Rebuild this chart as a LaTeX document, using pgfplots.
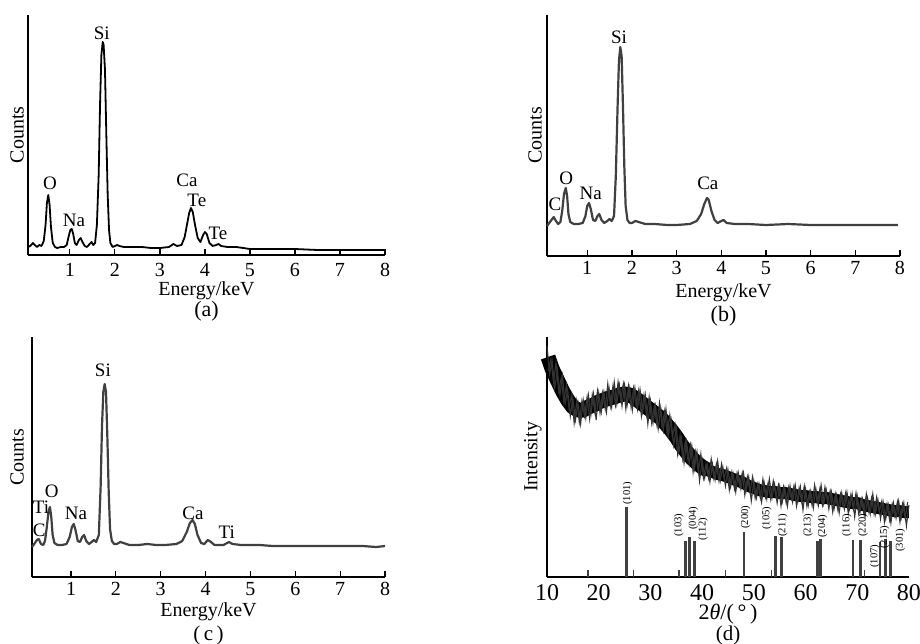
\documentclass[border=0pt]{standalone}
\usepackage{fontspec}
\setmainfont{Liberation Serif}
\usepackage{pgfplots}
\pgfplotsset{compat=1.18}
\pgfplotsset{
  eds/.style={
    scale only axis, anchor=south west,
    axis x line=bottom, axis y line=left,
    axis line style={-, line width=0.7pt},
    ytick=\empty,
    xmax=8, ymin=0,
    xtick={1,2,3,4,5,6,7,8},
    tick align=inside,
    major tick length=3pt,
    tick style={line width=0.6pt, black},
    /pgf/number format/assume math mode=true,
    ticklabel style={font=\fontsize{10}{11}\selectfont, inner sep=1pt},
    label style={font=\fontsize{10}{12}\selectfont, inner sep=1pt},
    xlabel={Energy/keV},
    ylabel={Counts},
    clip=false,
  },
}
\tikzset{pk/.style={font=\fontsize{9.5}{10}\selectfont, inner sep=0pt, anchor=center}}
\begin{document}
\begin{tikzpicture}
\useasboundingbox (0,0) rectangle (460pt,321.5pt);
% ---------------- (a)
\begin{axis}[eds, at={(14pt,194pt)}, width=178.5pt, height=120pt, xmin=0.07, ymax=240,
  xticklabel style={anchor=base, yshift=-11pt},
  xlabel style={at={(axis description cs:0.5,0)}, anchor=center, yshift=-18pt},
  ylabel style={at={(axis description cs:0,0.5)}, anchor=center, yshift=5.5pt}]
\addplot[black, line width=0.9pt, line join=round] coordinates {
(0.07,8) (0.12,9) (0.18,12) (0.22,10) (0.27,8) (0.32,10) (0.37,9) (0.42,14)
(0.46,30) (0.49,52) (0.52,60) (0.55,50) (0.58,28) (0.62,12) (0.67,8) (0.72,7)
(0.8,8) (0.87,8) (0.93,10) (0.97,18) (1.01,25) (1.04,26) (1.07,22) (1.11,12)
(1.15,10) (1.2,15) (1.24,17) (1.28,13) (1.33,9) (1.38,8) (1.44,11) (1.48,13)
(1.52,10) (1.56,12) (1.60,30) (1.64,80) (1.67,150) (1.70,200) (1.73,213) (1.75,210)
(1.78,185) (1.81,120) (1.84,60) (1.87,25) (1.9,12) (1.95,8) (2.0,9) (2.05,10)
(2.1,9) (2.2,8) (2.4,8) (2.6,8) (2.8,7) (3.0,7) (3.2,8) (3.3,11) (3.38,9)
(3.48,10) (3.55,18) (3.6,30) (3.65,42) (3.69,47) (3.73,43) (3.78,30) (3.84,17)
(3.9,13) (3.96,20) (4.0,23) (4.04,21) (4.1,12) (4.17,9) (4.25,10) (4.3,11)
(4.36,9) (4.5,8) (4.7,8) (5.0,6) (5.5,6) (6.0,6) (6.5,5) (7.0,5) (7.5,5) (8.0,5)
};
\node[pk] at (axis cs:1.71,222) {Si};
\node[pk] at (axis cs:0.56,72) {O};
\node[pk] at (axis cs:1.09,35) {Na};
\node[pk] at (axis cs:3.60,75) {Ca};
\node[pk] at (axis cs:3.82,55) {Te};
\node[pk] at (axis cs:4.29,22) {Te};
\node[font=\fontsize{11}{12}\selectfont, inner sep=1pt] at (rel axis cs:0.5,0) [yshift=-28pt] {(a)};
\end{axis}
% ---------------- (b)
\begin{axis}[eds, at={(273.5pt,193.5pt)}, width=176.5pt, height=120.5pt, xmin=0.1, ymax=241,
  xticklabel style={anchor=base, yshift=-9.5pt},
  xlabel style={at={(axis description cs:0.5,0)}, anchor=center, yshift=-18.5pt},
  ylabel style={at={(axis description cs:0,0.5)}, anchor=center, yshift=6pt}]
\addplot[black!75, line width=1.1pt, line join=round] coordinates {
(0.1,30) (0.15,33) (0.2,36) (0.25,39) (0.3,35) (0.35,32) (0.4,34) (0.44,45)
(0.48,62) (0.52,68) (0.55,60) (0.58,42) (0.62,34) (0.7,32) (0.8,32) (0.9,33)
(0.96,40) (1.0,50) (1.04,53) (1.08,47) (1.13,36) (1.18,35) (1.23,40) (1.27,42)
(1.32,36) (1.38,33) (1.45,35) (1.5,37) (1.55,35) (1.6,40) (1.64,80) (1.68,150)
(1.71,195) (1.74,209) (1.77,200) (1.8,150) (1.83,90) (1.86,50) (1.9,36) (1.95,33)
(2.0,33) (2.08,35) (2.15,34) (2.3,32) (2.5,32) (2.8,31) (3.0,31) (3.3,32)
(3.45,35) (3.55,42) (3.62,52) (3.68,58) (3.72,56) (3.78,45) (3.85,36) (3.92,33)
(4.0,35) (4.05,36) (4.12,33) (4.3,32) (4.6,32) (5.0,31) (5.5,32) (6.0,31)
(6.5,31) (7.0,31) (7.5,31) (7.95,31)
};
\node[pk] at (axis cs:1.71,219) {Si};
\node[pk] at (axis cs:0.53,78) {O};
\node[pk] at (axis cs:0.28,52) {C};
\node[pk] at (axis cs:1.08,63) {Na};
\node[pk] at (axis cs:3.70,73) {Ca};
\node[font=\fontsize{11}{12}\selectfont, inner sep=1pt] at (rel axis cs:0.5,0) [yshift=-30pt] {(b)};
\end{axis}
% ---------------- (c)
\begin{axis}[eds, at={(16pt,33pt)}, width=176.5pt, height=120pt, xmin=0.13, ymax=240,
  xticklabel style={anchor=base, yshift=-9pt},
  xlabel style={at={(axis description cs:0.5,0)}, anchor=center, yshift=-17.5pt},
  ylabel style={at={(axis description cs:0,0.5)}, anchor=center, yshift=7.5pt}]
\addplot[black!75, line width=1.1pt, line join=round] coordinates {
(0.13,30) (0.18,33) (0.24,37) (0.28,38) (0.33,33) (0.38,32) (0.42,36) (0.46,50)
(0.5,66) (0.53,70) (0.56,60) (0.59,42) (0.63,34) (0.7,32) (0.8,32) (0.9,33)
(0.97,40) (1.02,50) (1.06,53) (1.1,47) (1.15,36) (1.2,35) (1.25,40) (1.29,42)
(1.34,36) (1.4,33) (1.46,35) (1.51,37) (1.56,35) (1.62,42) (1.66,90) (1.69,150)
(1.72,185) (1.75,193) (1.78,185) (1.81,140) (1.84,85) (1.87,48) (1.91,36) (1.96,33)
(2.02,33) (2.1,35) (2.17,34) (2.3,32) (2.5,32) (2.7,33) (2.9,32) (3.1,32)
(3.35,33) (3.48,36) (3.58,45) (3.65,54) (3.71,57) (3.76,53) (3.82,42) (3.9,34)
(3.97,33) (4.05,37) (4.12,35) (4.2,32) (4.4,32) (4.52,35) (4.6,33) (4.8,32)
(5.2,32) (5.5,31) (6.0,31) (6.5,31) (7.0,31) (7.5,31) (7.8,30) (8.0,31)
};
\node[pk] at (axis cs:1.71,207) {Si};
\node[pk] at (axis cs:0.57,86) {O};
\node[pk] at (axis cs:0.33,70) {Ti};
\node[pk] at (axis cs:0.29,47) {C};
\node[pk] at (axis cs:1.11,64) {Na};
\node[pk] at (axis cs:3.72,64) {Ca};
\node[pk] at (axis cs:4.47,45) {Ti};
\node[font=\fontsize{10.5}{11}\selectfont, inner sep=1pt] at (rel axis cs:0.5,0) [yshift=-29pt] {(\,c\,)};
\end{axis}
% ---------------- (d)
\begin{axis}[eds, at={(273.5pt,33pt)}, width=181pt, height=120pt, xmin=10, xmax=80, ymax=240,
  xtick={10,20,30,40,50,60,70,80}, major tick length=0pt,
  ticklabel style={font=\fontsize{12}{13}\selectfont},
  xticklabel style={anchor=base, yshift=-11.5pt},
  xlabel={2\textit{θ}/(\,°\,)}, ylabel={Intensity},
  xlabel style={at={(axis description cs:0.5,0)}, anchor=center, yshift=-18.5pt, font=\fontsize{11}{13}\selectfont},
  ylabel style={at={(axis description cs:0,0.5)}, anchor=center, yshift=7pt}]
% core of noisy band
\addplot[black, line width=7.5pt, line join=round, line cap=butt] coordinates {
(10.2,220) (11,208) (12,197) (13,186) (14,177) (15,170) (16,167) (17,167) (18,170) (19,172)
(20,175) (21,177) (22,179) (23,180) (24,182) (25,183) (26,182) (27,179) (28,175)
(29,171) (30,167) (31,163) (32,159) (33,153) (34,147) (35,140) (36,132) (37,125)
(38,119) (39,114) (40,110) (41,107)
};
\addplot[black, line width=6pt, line join=round, line cap=butt] coordinates {
(40,110) (41,107) (42,105) (43,103) (44,102) (45,100) (46,98)
(47,96) (48,94) (49,91) (50,89) (51,87) (52,86) (53,85) (54,85) (55,84) (56,84)
(57,83) (58,82) (59,81) (60,81) (61,80) (62,80) (63,79) (64,79) (65,78) (66,77)
(67,76) (68,75) (69,74) (70,74) (71,72) (72,71) (73,70) (74,69) (75,68) (76,67)
(77,66) (78,66) (79,65) (80,65)
};
% noise spikes
\addplot[black!80, line width=0.55pt] coordinates {
(10.0,231) (10.5,203) (11.0,216) (11.5,189) (12.0,207) (12.5,182) (13.0,201) (13.5,173)
(14.0,187) (14.5,161) (15.0,179) (15.5,157) (16.0,174) (16.5,153) (17.0,177) (17.5,159)
(18.0,182) (18.5,163) (19.0,183) (19.5,157) (20.0,184) (20.5,165) (21.0,185) (21.5,165)
(22.0,189) (22.5,170) (23.0,195) (23.5,173) (24.0,192) (24.5,171) (25.0,192) (25.5,172)
(26.0,189) (26.5,167) (27.0,189) (27.5,168) (28.0,187) (28.5,165) (29.0,182) (29.5,153)
(30.0,176) (30.5,154) (31.0,171) (31.5,148) (32.0,169) (32.5,147) (33.0,168) (33.5,142)
(34.0,157) (34.5,132) (35.0,149) (35.5,125) (36.0,139) (36.5,114) (37.0,135) (37.5,113)
(38.0,131) (38.5,108) (39.0,125) (39.5,96) (40.0,117) (40.5,99) (41.0,113) (41.5,95)
(42.0,113) (42.5,97) (43.0,116) (43.5,96) (44.0,110) (44.5,91) (45.0,107) (45.5,90)
(46.0,103) (46.5,85) (47.0,104) (47.5,88) (48.0,104) (48.5,86) (49.0,100) (49.5,76)
(50.0,96) (50.5,79) (51.0,93) (51.5,75) (52.0,94) (52.5,78) (53.0,98) (53.5,79)
(54.0,93) (54.5,74) (55.0,91) (55.5,75) (56.0,89) (56.5,71) (57.0,91) (57.5,75)
(58.0,92) (58.5,75) (59.0,90) (59.5,67) (60.0,88) (60.5,71) (61.0,86) (61.5,69)
(62.0,88) (62.5,72) (63.0,92) (63.5,73) (64.0,87) (64.5,68) (65.0,85) (65.5,68)
(66.0,82) (66.5,64) (67.0,84) (67.5,68) (68.0,85) (68.5,68) (69.0,83) (69.5,60)
(70.0,81) (70.5,64) (71.0,78) (71.5,60) (72.0,79) (72.5,63) (73.0,83) (73.5,63)
(74.0,77) (74.5,58) (75.0,75) (75.5,58) (76.0,72) (76.5,54) (77.0,74) (77.5,59)
(78.0,76) (78.5,59) (79.0,74) (79.5,51) (80.0,72)
};
\addplot[black!80, line width=0.55pt] coordinates {
(10.25,206) (10.75,218) (11.25,195) (11.75,214) (12.25,186) (12.75,199) (13.25,175) (13.75,192)
(14.25,169) (14.75,182) (15.25,154) (15.75,176) (16.25,155) (16.75,176) (17.25,161) (17.75,180)
(18.25,158) (18.75,182) (19.25,165) (19.75,186) (20.25,164) (20.75,184) (21.25,168) (21.75,193)
(22.25,171) (22.75,191) (23.25,172) (23.75,195) (24.25,177) (24.75,193) (25.25,168) (25.75,191)
(26.25,170) (26.75,189) (27.25,171) (27.75,187) (28.25,161) (28.75,182) (29.25,162) (29.75,180)
(30.25,154) (30.75,171) (31.25,152) (31.75,174) (32.25,150) (32.75,166) (33.25,143) (33.75,162)
(34.25,140) (34.75,152) (35.25,123) (35.75,142) (36.25,118) (36.75,136) (37.25,117) (37.75,132)
(38.25,105) (38.75,125) (39.25,105) (39.75,123) (40.25,99) (40.75,113) (41.25,99) (41.75,118)
(42.25,99) (42.75,113) (43.25,96) (43.75,113) (44.25,98) (44.75,109) (45.25,87) (45.75,105)
(46.25,88) (46.75,104) (47.25,91) (47.75,104) (48.25,82) (48.75,100) (49.25,85) (49.75,100)
(50.25,79) (50.75,93) (51.25,79) (51.75,98) (52.25,80) (52.75,94) (53.25,78) (53.75,96)
(54.25,81) (54.75,92) (55.25,71) (55.75,90) (56.25,74) (56.75,90) (57.25,78) (57.75,91)
(58.25,71) (58.75,89) (59.25,75) (59.75,91) (60.25,71) (60.75,85) (61.25,72) (61.75,92)
(62.25,74) (62.75,88) (63.25,72) (63.75,90) (64.25,75) (64.75,86) (65.25,65) (65.75,83)
(66.25,67) (66.75,83) (67.25,71) (67.75,84) (68.25,64) (68.75,82) (69.25,68) (69.75,84)
(70.25,64) (70.75,78) (71.25,64) (71.75,83) (72.25,65) (72.75,79) (73.25,63) (73.75,80)
(74.25,65) (74.75,76) (75.25,55) (75.75,73) (76.25,57) (76.75,73) (77.25,61) (77.75,75)
(78.25,55) (78.75,73) (79.25,59) (79.75,75)
};
% reference pattern bars
\addplot[ycomb, black!75, line width=1.3pt] coordinates {
(25.4,70) (36.8,36) (37.6,40) (38.5,36) (48.1,45) (54.2,41) (55.3,40)
(62.3,36) (62.9,38) (69.2,37) (70.6,37) (74.4,35) (75.4,38) (76.4,36)
};
\addplot[ycomb, black!75, line width=0.8pt] coordinates {
(17.9,7) (26.7,7) (35.5,7) (44.5,7) (53.4,7) (71.4,7)
};
\begin{scope}[every node/.style={rotate=90, anchor=west, inner sep=0pt, font=\fontsize{5.3}{6}\selectfont}]
\node at (axis cs:25.6,72) {(101)};
\node at (axis cs:35.5,40) {(103)};
\node at (axis cs:38.3,47) {(004)};
\node at (axis cs:40.2,36) {(112)};
\node at (axis cs:48.4,48) {(200)};
\node at (axis cs:52.5,47) {(105)};
\node at (axis cs:55.6,40) {(211)};
\node at (axis cs:60.5,40) {(213)};
\node at (axis cs:63.3,39) {(204)};
\node at (axis cs:68.0,40) {(116)};
\node at (axis cs:71.1,40) {(220)};
\node at (axis cs:73.4,9) {(107)};
\node at (axis cs:75.3,28) {(215)};
\node at (axis cs:78.3,25) {(301)};
\end{scope}
\node[font=\fontsize{10.5}{11}\selectfont, inner sep=1pt] at (rel axis cs:0.5,0) [yshift=-29pt] {(d)};
\end{axis}
\end{tikzpicture}
\end{document}
